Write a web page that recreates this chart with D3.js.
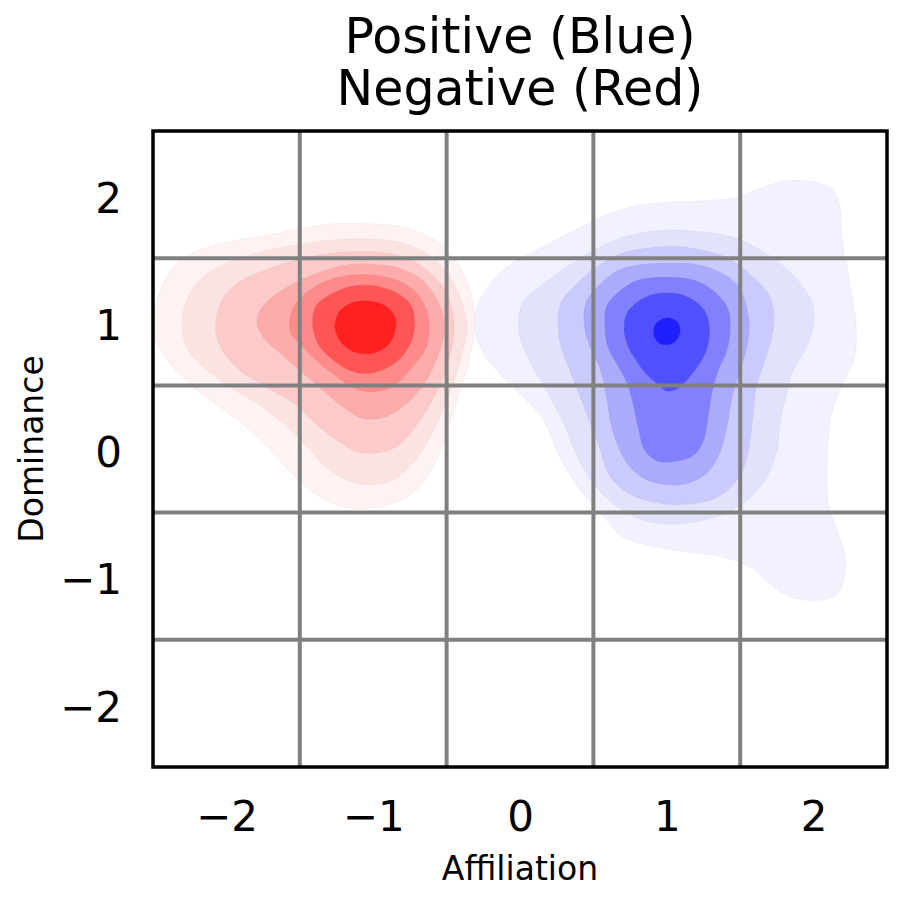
<!DOCTYPE html>
<html>
<head>
<meta charset="utf-8">
<script src="https://cdn.jsdelivr.net/npm/d3@7"></script>
<style>
  html, body { margin: 0; padding: 0; background: #fff; }
  svg { display: block; font-family: 'DejaVu Sans', sans-serif; }
</style>
</head>
<body>
<div id="chart"></div>
<script>
// Tick + grid values (data units)
const xTicks = [-2, -1, 0, 1, 2];
const yTicks = [-2, -1, 0, 1, 2];
const gridValues = [-1.5, -0.5, 0.5, 1.5];
const titleLines = ['Positive (Blue)', 'Negative (Red)'];

// Density contour bands, outermost first: [affiliation, dominance]
const redLevels = [
  [[-2.49,1.04],[-2.45,1.25],[-2.36,1.43],[-2.23,1.54],[-2.02,1.62],[-1.77,1.67],[-1.50,1.73],[-1.27,1.77],[-1.04,1.77],[-0.82,1.75],[-0.64,1.68],[-0.52,1.59],[-0.41,1.43],[-0.34,1.25],[-0.31,1.04],[-0.32,0.86],[-0.35,0.67],[-0.41,0.46],[-0.48,0.20],[-0.55,-0.03],[-0.64,-0.24],[-0.79,-0.39],[-0.98,-0.46],[-1.11,-0.47],[-1.25,-0.44],[-1.41,-0.34],[-1.57,-0.17],[-1.70,-0.01],[-1.84,0.15],[-2.02,0.31],[-2.23,0.49],[-2.38,0.67],[-2.48,0.86]],
  [[-2.30,0.99],[-2.27,1.17],[-2.18,1.33],[-2.02,1.45],[-1.79,1.54],[-1.54,1.60],[-1.29,1.64],[-1.07,1.65],[-0.84,1.63],[-0.66,1.55],[-0.52,1.42],[-0.43,1.25],[-0.37,1.04],[-0.36,0.94],[-0.39,0.78],[-0.44,0.57],[-0.52,0.33],[-0.61,0.10],[-0.73,-0.11],[-0.86,-0.24],[-1.02,-0.28],[-1.18,-0.24],[-1.32,-0.14],[-1.45,0.02],[-1.61,0.20],[-1.79,0.36],[-1.98,0.49],[-2.16,0.65],[-2.27,0.80]],
  [[-2.07,1.01],[-2.03,1.17],[-1.93,1.30],[-1.77,1.39],[-1.57,1.47],[-1.34,1.53],[-1.11,1.55],[-0.93,1.54],[-0.77,1.50],[-0.64,1.41],[-0.53,1.28],[-0.47,1.12],[-0.45,0.94],[-0.47,0.78],[-0.52,0.57],[-0.61,0.36],[-0.73,0.15],[-0.84,0.02],[-0.98,-0.03],[-1.11,-0.02],[-1.25,0.07],[-1.39,0.20],[-1.54,0.36],[-1.73,0.49],[-1.91,0.62],[-2.03,0.78],[-2.07,0.91]],
  [[-1.79,0.99],[-1.77,1.09],[-1.68,1.20],[-1.54,1.30],[-1.36,1.39],[-1.16,1.45],[-0.98,1.45],[-0.82,1.42],[-0.68,1.34],[-0.59,1.22],[-0.53,1.07],[-0.52,0.91],[-0.56,0.73],[-0.64,0.54],[-0.77,0.36],[-0.93,0.25],[-1.07,0.24],[-1.18,0.31],[-1.32,0.44],[-1.48,0.60],[-1.63,0.75],[-1.75,0.88]],
  [[-1.57,0.99],[-1.54,1.12],[-1.43,1.25],[-1.27,1.34],[-1.09,1.37],[-0.91,1.35],[-0.76,1.28],[-0.66,1.15],[-0.62,0.99],[-0.64,0.80],[-0.73,0.65],[-0.86,0.50],[-1.02,0.45],[-1.14,0.49],[-1.25,0.57],[-1.39,0.70],[-1.50,0.83],[-1.56,0.91]],
  [[-1.41,0.96],[-1.39,1.12],[-1.28,1.22],[-1.14,1.28],[-0.98,1.28],[-0.83,1.22],[-0.74,1.12],[-0.72,0.96],[-0.76,0.80],[-0.86,0.67],[-1.00,0.60],[-1.14,0.61],[-1.26,0.69],[-1.36,0.80]],
  [[-1.26,0.96],[-1.23,1.08],[-1.14,1.15],[-1.02,1.16],[-0.91,1.12],[-0.85,1.03],[-0.85,0.94],[-0.89,0.83],[-0.98,0.76],[-1.07,0.75],[-1.16,0.78],[-1.23,0.86]]
];

const blueLevels = [
  [[-0.31,1.01],[-0.25,1.22],[-0.09,1.43],[0.11,1.56],[0.34,1.70],[0.57,1.83],[0.79,1.91],[1.02,1.94],[1.25,1.95],[1.48,1.98],[1.66,2.06],[1.84,2.11],[2.00,2.10],[2.13,2.04],[2.18,1.88],[2.19,1.67],[2.23,1.41],[2.27,1.15],[2.29,0.94],[2.28,0.73],[2.20,0.52],[2.13,0.31],[2.10,0.10],[2.09,-0.17],[2.10,-0.43],[2.16,-0.64],[2.21,-0.82],[2.21,-1.00],[2.16,-1.14],[2.02,-1.19],[1.84,-1.16],[1.70,-1.06],[1.57,-0.93],[1.39,-0.85],[1.16,-0.81],[0.93,-0.77],[0.70,-0.69],[0.57,-0.53],[0.43,-0.35],[0.27,-0.06],[0.16,0.23],[0.02,0.41],[-0.16,0.62],[-0.27,0.80]],
  [[-0.01,1.01],[0.02,1.15],[0.14,1.28],[0.32,1.43],[0.55,1.59],[0.75,1.68],[0.98,1.72],[1.20,1.71],[1.43,1.67],[1.61,1.58],[1.77,1.46],[1.91,1.30],[1.99,1.15],[2.00,0.99],[1.95,0.80],[1.86,0.62],[1.81,0.41],[1.77,0.20],[1.75,-0.01],[1.68,-0.22],[1.57,-0.38],[1.39,-0.51],[1.20,-0.57],[1.02,-0.59],[0.84,-0.56],[0.66,-0.45],[0.52,-0.30],[0.39,-0.06],[0.30,0.20],[0.18,0.46],[0.05,0.73],[0.00,0.88]],
  [[0.26,0.99],[0.28,1.15],[0.39,1.30],[0.52,1.43],[0.70,1.54],[0.89,1.58],[1.07,1.59],[1.25,1.56],[1.43,1.49],[1.59,1.35],[1.70,1.20],[1.73,1.04],[1.71,0.86],[1.66,0.67],[1.61,0.49],[1.59,0.31],[1.57,0.10],[1.54,-0.09],[1.48,-0.24],[1.34,-0.38],[1.16,-0.43],[0.98,-0.43],[0.82,-0.39],[0.68,-0.30],[0.59,-0.17],[0.55,-0.01],[0.48,0.20],[0.41,0.41],[0.34,0.62],[0.28,0.80]],
  [[0.44,0.96],[0.45,1.15],[0.55,1.30],[0.68,1.41],[0.84,1.45],[1.02,1.46],[1.20,1.45],[1.36,1.39],[1.48,1.29],[1.54,1.13],[1.56,0.96],[1.54,0.78],[1.49,0.59],[1.44,0.39],[1.41,0.18],[1.36,-0.03],[1.28,-0.18],[1.14,-0.27],[1.00,-0.28],[0.86,-0.24],[0.75,-0.14],[0.68,-0.01],[0.62,0.20],[0.59,0.41],[0.55,0.62],[0.48,0.80]],
  [[0.58,0.96],[0.59,1.12],[0.66,1.22],[0.79,1.32],[1.00,1.35],[1.20,1.32],[1.34,1.22],[1.42,1.09],[1.43,0.94],[1.41,0.78],[1.35,0.62],[1.31,0.46],[1.28,0.25],[1.25,0.07],[1.18,-0.05],[1.04,-0.10],[0.93,-0.09],[0.85,-0.01],[0.81,0.15],[0.77,0.36],[0.73,0.52],[0.66,0.67],[0.60,0.80]],
  [[0.71,0.94],[0.73,1.07],[0.82,1.17],[0.93,1.22],[1.07,1.22],[1.18,1.17],[1.26,1.08],[1.29,0.94],[1.27,0.78],[1.21,0.65],[1.15,0.56],[1.09,0.49],[1.04,0.46],[0.99,0.46],[0.93,0.52],[0.86,0.59],[0.79,0.70],[0.74,0.80]],
  [[0.91,0.92],[0.93,0.99],[1.00,1.03],[1.07,1.00],[1.09,0.92],[1.06,0.85],[1.00,0.82],[0.94,0.84]]
];

const redFills = ['#fff2f2', '#fde2e2', '#fdcaca', '#fdabab', '#fe8a8a', '#ff5555', '#ff2020'];
const blueFills = ['#f2f2ff', '#e2e2fd', '#cacafd', '#ababfd', '#8181fe', '#5050ff', '#2020ff'];

(function () {
  const W = 900, H = 900;
  const plot = { left: 153, right: 887, top: 131, bottom: 767 };

  const x = d3.scaleLinear().domain([-2.5, 2.5]).range([plot.left, plot.right]);
  const y = d3.scaleLinear().domain([-2.5, 2.5]).range([plot.bottom, plot.top]);

  const svg = d3.select('#chart').append('svg')
    .attr('width', W).attr('height', H);

  svg.append('rect').attr('width', W).attr('height', H).attr('fill', '#fff');

  svg.append('clipPath').attr('id', 'plot-clip')
    .append('rect')
    .attr('x', plot.left).attr('y', plot.top)
    .attr('width', plot.right - plot.left).attr('height', plot.bottom - plot.top);

  const area = svg.append('g').attr('clip-path', 'url(#plot-clip)');

  const shape = d3.line()
    .x(d => x(d[0]))
    .y(d => y(d[1]))
    .curve(d3.curveCatmullRomClosed.alpha(0.5));

  function drawBands(levels, fills) {
    levels.forEach((poly, i) => {
      area.append('path')
        .attr('d', shape(poly))
        .attr('fill', fills[i])
        .attr('stroke', d3.color(fills[i]).darker(0.25))
        .attr('stroke-opacity', 0.4)
        .attr('stroke-width', 1);
    });
  }

  drawBands(blueLevels, blueFills);
  drawBands(redLevels, redFills);

  // grid on top of the fills
  const grid = area.append('g').attr('stroke', '#808080').attr('stroke-width', 4);
  gridValues.forEach(v => {
    grid.append('line')
      .attr('x1', x(v)).attr('x2', x(v))
      .attr('y1', plot.top).attr('y2', plot.bottom);
    grid.append('line')
      .attr('x1', plot.left).attr('x2', plot.right)
      .attr('y1', y(v)).attr('y2', y(v));
  });

  // spines
  svg.append('rect')
    .attr('x', plot.left).attr('y', plot.top)
    .attr('width', plot.right - plot.left).attr('height', plot.bottom - plot.top)
    .attr('fill', 'none').attr('stroke', '#000').attr('stroke-width', 3.5);

  const fmt = d3.format('d');
  const xAxis = svg.append('g')
    .attr('transform', `translate(0,${plot.bottom})`)
    .call(d3.axisBottom(x).tickValues(xTicks).tickFormat(fmt).tickSize(0).tickPadding(34));
  const yAxis = svg.append('g')
    .attr('transform', `translate(${plot.left},0)`)
    .call(d3.axisLeft(y).tickValues(yTicks).tickFormat(fmt).tickSize(0).tickPadding(31));

  [xAxis, yAxis].forEach(a => {
    a.select('.domain').remove();
    a.selectAll('text')
      .attr('font-family', "'DejaVu Sans', sans-serif")
      .attr('font-size', 42)
      .attr('fill', '#000');
  });
  yAxis.selectAll('text').attr('dy', '0.42em');

  svg.append('text')
    .attr('x', (plot.left + plot.right) / 2)
    .attr('y', 880)
    .attr('text-anchor', 'middle')
    .attr('font-size', 33)
    .text('Affiliation');

  svg.append('text')
    .attr('transform', `translate(43,${(plot.top + plot.bottom) / 2}) rotate(-90)`)
    .attr('text-anchor', 'middle')
    .attr('font-size', 33)
    .text('Dominance');

  const title = svg.append('text')
    .attr('text-anchor', 'middle')
    .attr('font-size', 49);
  titleLines.forEach((line, i) => {
    title.append('tspan')
      .attr('x', (plot.left + plot.right) / 2)
      .attr('y', 53 + i * 52)
      .text(line);
  });
})();
</script>
</body>
</html>
